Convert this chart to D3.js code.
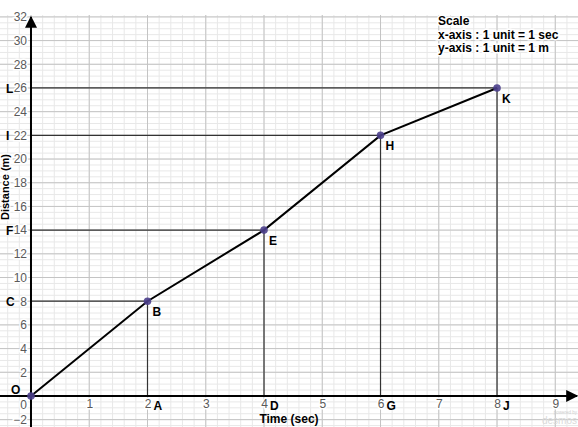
<!DOCTYPE html>
<html>
<head>
<meta charset="utf-8">
<script src="https://cdn.jsdelivr.net/npm/d3@7"></script>
<style>
  body { margin: 0; background: #fff; }
  svg { display: block; font-family: Arial, "Liberation Sans", sans-serif; }
</style>
</head>
<body>
<svg width="578" height="427"></svg>
<script>
// data
var times = [0, 2, 4, 6, 8];
var distances = [0, 8, 14, 22, 26];
var pointLetters = ["O", "B", "E", "H", "K"];
var timeLetters = ["A", "D", "G", "J"];        // on the time axis
var distanceLetters = ["C", "F", "I", "L"];    // on the distance axis
var xTicks = [1, 2, 3, 4, 5, 6, 7, 8, 9];
var yTicks = [-2, 2, 4, 6, 8, 10, 12, 14, 16, 18, 20, 22, 24, 26, 28, 30, 32];
var scaleNotes = ["Scale", "x-axis : 1 unit = 1 sec", "y-axis : 1 unit = 1 m"];

var svg = d3.select("svg"),
    width = +svg.attr("width"),
    height = +svg.attr("height"),
    gridTop = 15;

var x = d3.scaleLinear().domain([-0.532, 9.39]).range([0, width]),
    y = d3.scaleLinear().domain([-2.62, 32.16]).range([height, gridTop]);

var g = svg.append("g");

// minor grid
g.selectAll(".vminor")
    .data(d3.range(-0.4, 9.4, 0.2))
    .enter().append("line")
    .attr("x1", d => x(d)).attr("x2", d => x(d))
    .attr("y1", gridTop).attr("y2", height)
    .attr("stroke", "#e8e8e8").attr("stroke-width", 1);

g.selectAll(".hminor")
    .data(d3.range(-2.5, 32.5, 0.5))
    .enter().append("line")
    .attr("y1", d => y(d)).attr("y2", d => y(d))
    .attr("x1", 0).attr("x2", width)
    .attr("stroke", "#e8e8e8").attr("stroke-width", 1);

// major grid
g.selectAll(".vmajor")
    .data(d3.range(0, 10, 1))
    .enter().append("line")
    .attr("x1", d => x(d)).attr("x2", d => x(d))
    .attr("y1", gridTop).attr("y2", height)
    .attr("stroke", "#c4c4c4").attr("stroke-width", 1);

g.selectAll(".hmajor")
    .data(d3.range(-2, 33, 2))
    .enter().append("line")
    .attr("y1", d => y(d)).attr("y2", d => y(d))
    .attr("x1", 0).attr("x2", width)
    .attr("stroke", "#c4c4c4").attr("stroke-width", 1);

// guide lines from the axes to each point
var pts = times.map((t, i) => ({t: t, d: distances[i], name: pointLetters[i]}));
var guides = pts.slice(1);

g.selectAll(".hguide")
    .data(guides)
    .enter().append("line")
    .attr("x1", x(0)).attr("x2", d => x(d.t))
    .attr("y1", d => y(d.d)).attr("y2", d => y(d.d))
    .attr("stroke", "#333").attr("stroke-width", 1.2);

g.selectAll(".vguide")
    .data(guides)
    .enter().append("line")
    .attr("x1", d => x(d.t)).attr("x2", d => x(d.t))
    .attr("y1", y(0)).attr("y2", d => y(d.d))
    .attr("stroke", "#333").attr("stroke-width", 1.2);

// tick labels
function halo(sel) {
    sel.selectAll("text")
        .attr("fill", "#5a5a5a")
        .attr("stroke", "#fff").attr("stroke-width", 3)
        .attr("paint-order", "stroke")
        .style("font-size", "12px")
        .style("font-family", "Arial, 'Liberation Sans', sans-serif");
}

var xAxis = g.append("g")
    .attr("transform", `translate(0,${y(0)})`)
    .call(d3.axisBottom(x).tickValues(xTicks).tickSize(0).tickPadding(4).tickFormat(d3.format("d")));
xAxis.select(".domain").remove();
halo(xAxis);

var yAxis = g.append("g")
    .attr("transform", `translate(${x(0)},0)`)
    .call(d3.axisLeft(y).tickValues(yTicks).tickSize(0).tickPadding(4).tickFormat(d3.format("d")));
yAxis.select(".domain").remove();
halo(yAxis);

g.append("text")
    .attr("x", x(0) - 4).attr("y", y(0) + 13)
    .attr("text-anchor", "end")
    .attr("fill", "#5a5a5a")
    .attr("stroke", "#fff").attr("stroke-width", 3).attr("paint-order", "stroke")
    .style("font-size", "12px")
    .text("0");

// axes with arrows
svg.append("defs").append("marker")
    .attr("id", "arrow")
    .attr("viewBox", "0 0 10 10")
    .attr("refX", 9).attr("refY", 5)
    .attr("markerWidth", 6).attr("markerHeight", 6)
    .attr("markerUnits", "strokeWidth")
    .attr("orient", "auto")
    .append("path")
    .attr("d", "M0,0 L10,5 L0,10 z")
    .attr("fill", "#000");

g.append("line")
    .attr("x1", 0).attr("x2", width - 1)
    .attr("y1", y(0)).attr("y2", y(0))
    .attr("stroke", "#000").attr("stroke-width", 2)
    .attr("marker-end", "url(#arrow)");

g.append("line")
    .attr("x1", x(0)).attr("x2", x(0))
    .attr("y1", height).attr("y2", gridTop + 2)
    .attr("stroke", "#000").attr("stroke-width", 2)
    .attr("marker-end", "url(#arrow)");

// the distance-time line
var line = d3.line().x(d => x(d.t)).y(d => y(d.d));
g.append("path")
    .datum(pts)
    .attr("d", line)
    .attr("fill", "none")
    .attr("stroke", "#000")
    .attr("stroke-width", 2);

g.selectAll(".pt")
    .data(pts)
    .enter().append("circle")
    .attr("cx", d => x(d.t))
    .attr("cy", d => y(d.d))
    .attr("r", 3.8)
    .attr("fill", "#4b3f8c")
    .attr("fill-opacity", 0.9);

// point letters
var bold = sel => sel.attr("fill", "#000").attr("font-weight", "bold").style("font-size", "12px");

g.selectAll(".plabel")
    .data(pts.slice(1))
    .enter().append("text")
    .attr("x", d => x(d.t) + 5)
    .attr("y", d => y(d.d) + 15)
    .text(d => d.name)
    .call(bold);

g.append("text")
    .attr("x", x(0) - 20).attr("y", y(0) - 2)
    .text(pointLetters[0])
    .call(bold);

g.selectAll(".tlabel")
    .data(guides)
    .enter().append("text")
    .attr("x", d => x(d.t) + 6)
    .attr("y", y(0) + 14)
    .text((d, i) => timeLetters[i])
    .call(bold);

g.selectAll(".dlabel")
    .data(guides)
    .enter().append("text")
    .attr("x", 6)
    .attr("y", d => y(d.d) + 5)
    .text((d, i) => distanceLetters[i])
    .call(bold);

// axis titles
g.append("text")
    .attr("x", 289).attr("y", 423)
    .attr("text-anchor", "middle")
    .text("Time (sec)")
    .call(bold);

g.append("text")
    .attr("transform", "translate(9,187) rotate(-90)")
    .attr("text-anchor", "middle")
    .attr("stroke", "#fff").attr("stroke-width", 3).attr("paint-order", "stroke")
    .text("Distance (m)")
    .attr("fill", "#000").attr("font-weight", "bold").style("font-size", "11px");

// scale note
g.selectAll(".note")
    .data(scaleNotes)
    .enter().append("text")
    .attr("x", 438)
    .attr("y", (d, i) => 25 + i * 13.5)
    .attr("stroke", "#fff").attr("stroke-width", 3).attr("paint-order", "stroke")
    .text(d => d)
    .call(bold);

// faint watermark
g.append("text")
    .attr("x", 577).attr("y", 414)
    .attr("text-anchor", "end")
    .attr("fill", "#d0d0d0")
    .style("font-size", "4.5px")
    .text("powered by");
g.append("text")
    .attr("x", 577).attr("y", 424)
    .attr("text-anchor", "end")
    .attr("fill", "#dadada")
    .style("font-size", "10px")
    .text("desmos");
</script>
</body>
</html>
